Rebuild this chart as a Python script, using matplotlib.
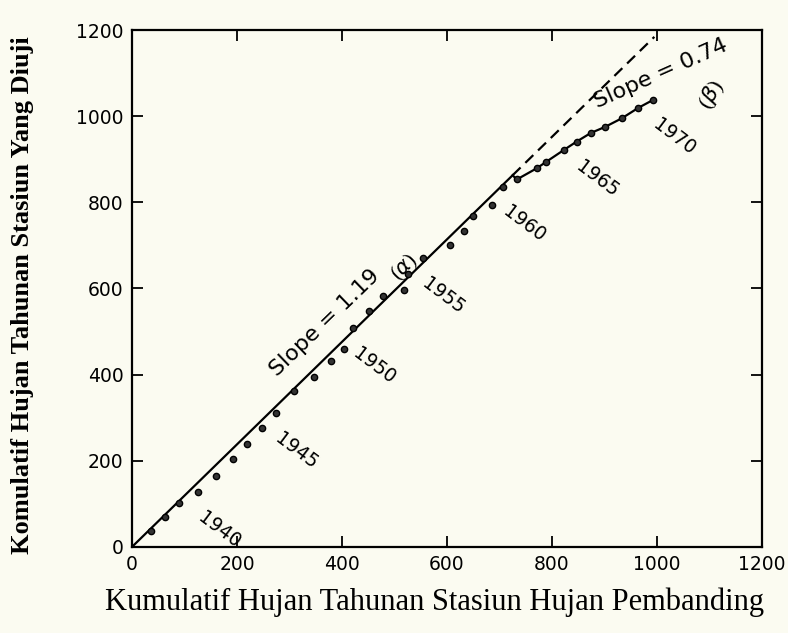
import matplotlib
matplotlib.use('Agg')
from matplotlib import pyplot as plt
import numpy as np

# cumulative annual rainfall, reference station (x) vs station tested (y)
years = list(range(1937, 1971))
x_cum = [36, 63, 90, 126, 160, 193, 219, 248, 274, 309,
         347, 379, 404, 421, 452, 479, 518, 526, 554, 606,
         632, 649, 685, 707, 733, 771, 789, 822, 847, 874,
         901, 933, 964, 993]
y_cum = [38, 70, 102, 127, 165, 204, 238, 277, 311, 361,
         394, 432, 460, 508, 548, 582, 596, 634, 670, 700,
         733, 768, 793, 836, 853, 879, 894, 921, 941, 961,
         975, 995, 1019, 1038]
label_years = [1940, 1945, 1950, 1955, 1960, 1965, 1970]

slope_a = 1.19
slope_b = 0.74
break_x = 725
dash_end_x = 995

xticks = [0, 200, 400, 600, 800, 1000, 1200]
yticks = [0, 200, 400, 600, 800, 1000, 1200]

paper = '#fbfbf1'

fig = plt.figure(figsize=(7.88, 6.33), dpi=100)
fig.patch.set_facecolor(paper)
ax = fig.add_axes([0.1675, 0.136, 0.7995, 0.8166])
ax.set_facecolor(paper)

# fitted line (alpha) and its extension, then the later trend (beta)
xa = np.array([0, break_x])
ax.plot(xa, slope_a * xa, color='black', lw=1.6, zorder=3)
xd = np.array([break_x, dash_end_x])
ax.plot(xd, slope_a * xd, color='black', lw=1.6, ls=(0, (5, 3)), zorder=3)
i_b = [i for i, x in enumerate(x_cum) if x >= break_x]
bx = [break_x] + [x_cum[i] for i in i_b]
by = [slope_a * break_x] + [y_cum[i] for i in i_b]
ax.plot(bx, by, color='black', lw=1.6, zorder=3)

ax.plot(x_cum, y_cum, 'o', color='black', markersize=4.5,
        markerfacecolor='#333333', zorder=4)

for yr in label_years:
    i = years.index(yr)
    ax.annotate(str(yr), (x_cum[i], y_cum[i]), xytext=(15, -27),
                textcoords='offset points', ha='center', va='center',
                rotation=-37, fontsize=13.5)

ax.text(367, 520, 'Slope = 1.19', rotation=44, ha='center', va='center',
        fontsize=16)
ax.text(1007, 1098, 'Slope = 0.74', rotation=24, ha='center', va='center',
        fontsize=16)
ax.text(520, 648, r'($\alpha$)', rotation=45, ha='center', va='center',
        fontsize=15, family='Liberation Serif')
ax.text(1105, 1049, r'($\beta$)', rotation=60, ha='center', va='center',
        fontsize=16, family='Liberation Serif')

ax.set_xlim(0, 1200)
ax.set_ylim(0, 1200)
ax.set_xticks(xticks)
ax.set_yticks(yticks)
ax.tick_params(direction='in', length=8, width=1.3, top=True, right=True,
               labelsize=13.5, pad=6, colors='black')
for s in ax.spines.values():
    s.set_linewidth(1.6)

fig.text(0.028, 0.534, 'Komulatif Hujan Tahunan Stasiun Yang Diuji',
         rotation=90, ha='center', va='center', fontsize=19,
         fontweight='bold', family='Liberation Serif')
fig.text(0.552, 0.049, 'Kumulatif Hujan Tahunan Stasiun Hujan Pembanding',
         ha='center', va='center', fontsize=22, family='Liberation Serif')

plt.savefig('out.png', dpi=100, facecolor=paper)
